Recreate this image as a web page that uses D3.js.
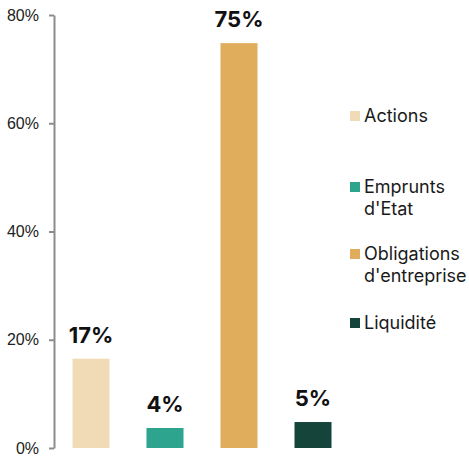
<!DOCTYPE html>
<html>
<head>
<meta charset="utf-8">
<script src="https://cdn.jsdelivr.net/npm/d3@7"></script>
<style>
    body { margin: 0; background: #fff; }
    svg { display: block; font-family: Inter, "Liberation Sans", sans-serif; }
</style>
</head>
<body>
<svg id="chart" width="469" height="456"></svg>
<script>
(function () {
    'use strict';

    // data
    var categories = ['Actions', 'Emprunts d\'Etat', 'Obligations d\'entreprise', 'Liquidité'];
    var values = [16.5, 3.7, 74.8, 4.8];
    var valueLabels = ['17%', '4%', '75%', '5%'];
    var legendLines = [['Actions'], ['Emprunts', 'd\'Etat'], ['Obligations', 'd\'entreprise'], ['Liquidité']];
    var colors = ['#f0dbb6', '#2da58e', '#dfad5c', '#15443a'];
    var tickValues = [0, 20, 40, 60, 80];

    var svg = d3.select('#chart');

    var x = d3.scaleBand()
        .domain(categories)
        .range([54, 350])
        .paddingInner(0.5)
        .paddingOuter(0.25);

    var y = d3.scaleLinear()
        .domain([0, 80])
        .range([448, 15]);

    // y axis
    var yAxis = svg.append('g')
        .attr('transform', 'translate(54,0)')
        .call(d3.axisLeft(y)
            .tickValues(tickValues)
            .tickFormat(function (d) { return d + '%'; })
            .tickSize(5)
            .tickSizeOuter(0)
            .tickPadding(10));

    yAxis.select('.domain').attr('stroke', '#8c8c8c').attr('stroke-width', 2);
    yAxis.selectAll('.tick line').attr('stroke', '#8c8c8c').attr('stroke-width', 2);
    yAxis.selectAll('.tick text')
        .attr('fill', '#222')
        .style('font-size', '16px');

    // bars
    svg.append('g').selectAll('rect')
        .data(categories)
        .join('rect')
        .attr('x', function (d) { return x(d); })
        .attr('y', function (d, i) { return y(values[i]); })
        .attr('width', x.bandwidth())
        .attr('height', function (d, i) { return y(0) - y(values[i]); })
        .attr('fill', function (d, i) { return colors[i]; });

    // value labels
    svg.append('g').selectAll('text')
        .data(categories)
        .join('text')
        .attr('x', function (d) { return x(d) + x.bandwidth() / 2; })
        .attr('y', function (d, i) { return y(values[i]) - 16; })
        .attr('text-anchor', 'middle')
        .attr('fill', '#111')
        .style('font-size', '22px')
        .style('font-weight', 700)
        .text(function (d, i) { return valueLabels[i]; });

    // legend
    var legendY = [116, 187, 254, 323];
    var legend = svg.append('g').selectAll('g')
        .data(categories)
        .join('g')
        .attr('transform', function (d, i) { return 'translate(350,' + legendY[i] + ')'; });

    legend.append('rect')
        .attr('x', 0)
        .attr('y', -5)
        .attr('width', 10)
        .attr('height', 10)
        .attr('fill', function (d, i) { return colors[i]; });

    legend.each(function (d, i) {
        var t = d3.select(this).append('text')
            .attr('x', 14)
            .attr('y', 6)
            .attr('fill', '#1a1a1a')
            .style('font-size', '18px');
        legendLines[i].forEach(function (line, j) {
            t.append('tspan')
                .attr('x', 14)
                .attr('dy', j === 0 ? 0 : 22)
                .text(line);
        });
    });
}());
</script>
</body>
</html>
